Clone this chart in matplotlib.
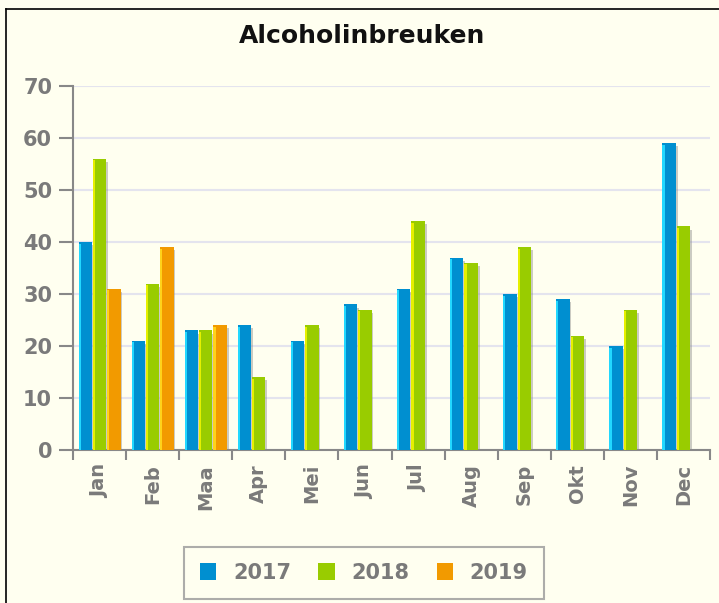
import matplotlib
matplotlib.use("Agg")
import matplotlib.pyplot as plt
import numpy as np
from matplotlib.lines import Line2D

months = ["Jan", "Feb", "Maa", "Apr", "Mei", "Jun", "Jul", "Aug", "Sep", "Okt", "Nov", "Dec"]
years = ["2017", "2018", "2019"]
values_2017 = [40, 21, 23, 24, 21, 28, 31, 37, 30, 29, 20, 59]
values_2018 = [56, 32, 23, 14, 24, 27, 44, 36, 39, 22, 27, 43]
values_2019 = [31, 39, 24, None, None, None, None, None, None, None, None, None]
colors = ["#008fd0", "#99cc00", "#f29a00"]
highlights = ["#22d8ff", "#e6f000", "#ffd21a"]

bg = "#fffff0"
gray = "#7a7a7a"

fig = plt.figure(figsize=(7.19, 6.03), dpi=100, facecolor=bg)
ax = fig.add_axes([73 / 719, 1 - 450 / 603, 637 / 719, 364 / 603])
ax.set_facecolor(bg)

x = np.arange(len(months))
slot = 0.27
width = 0.25
series = [values_2017, values_2018, values_2019]
for j, vals in enumerate(series):
    v = np.array([np.nan if a is None else a for a in vals], dtype=float)
    pos = x + (j - 1) * slot
    # soft shadow on the right
    ax.bar(pos + 0.035, v - 0.6, width=width, color="#8c8c8c", alpha=0.45,
           zorder=2, linewidth=0)
    ax.bar(pos, v, width=width, color=colors[j], label=years[j],
           zorder=3, linewidth=0)
    # light edge on the left
    ax.bar(pos - width / 2 + 0.02, v - 0.3, width=0.04, color=highlights[j],
           zorder=4, linewidth=0)

ax.set_xlim(-0.5, len(months) - 0.5)
ax.set_ylim(0, 70)
ax.set_yticks(np.arange(0, 71, 10))
ax.yaxis.grid(True, color="#e4e4ee", linewidth=1.5, zorder=0)
ax.set_axisbelow(True)

# ticks between categories, labels at the centre
ax.set_xticks(np.arange(-0.5, len(months), 1.0))
ax.set_xticklabels([])
ax.set_xticks(x, minor=True)
ax.set_xticklabels(months, minor=True, rotation=90, fontsize=14,
                   fontweight="bold", color=gray)
ax.tick_params(axis="x", which="minor", length=0, pad=10)
ax.tick_params(axis="x", which="major", length=7, width=1.5, color="#888888",
               direction="out")
ax.tick_params(axis="y", length=10, width=1.5, color="#888888", pad=5,
               labelsize=15, labelcolor=gray)
for lab in ax.get_yticklabels():
    lab.set_fontweight("bold")

for side in ["top", "right"]:
    ax.spines[side].set_visible(False)
for side in ["left", "bottom"]:
    ax.spines[side].set_color("#888888")
    ax.spines[side].set_linewidth(1.5)

fig.text(0.503, 1 - 36 / 603, "Alcoholinbreuken", ha="center", va="center",
         fontsize=18, fontweight="bold", color="#111111")

leg = fig.legend(loc="center", bbox_to_anchor=(0.506, 1 - 573 / 603), ncol=3,
                 frameon=True, fancybox=False, handlelength=0.8, handleheight=0.9,
                 handletextpad=0.8, columnspacing=1.3, borderpad=0.75,
                 borderaxespad=0, prop={"weight": "bold", "size": 15})
leg.get_frame().set_edgecolor("#999999")
leg.get_frame().set_linewidth(1.5)
leg.get_frame().set_facecolor(bg)
for t in leg.get_texts():
    t.set_color(gray)

# border of the original frame (top and left edge visible)
fig.add_artist(Line2D([6 / 719, 6 / 719], [0, 1 - 9 / 603], color="black", linewidth=1.2))
fig.add_artist(Line2D([6 / 719, 1], [1 - 9 / 603, 1 - 9 / 603], color="black", linewidth=1.2))

fig.savefig("out.png", dpi=100, facecolor=bg)
